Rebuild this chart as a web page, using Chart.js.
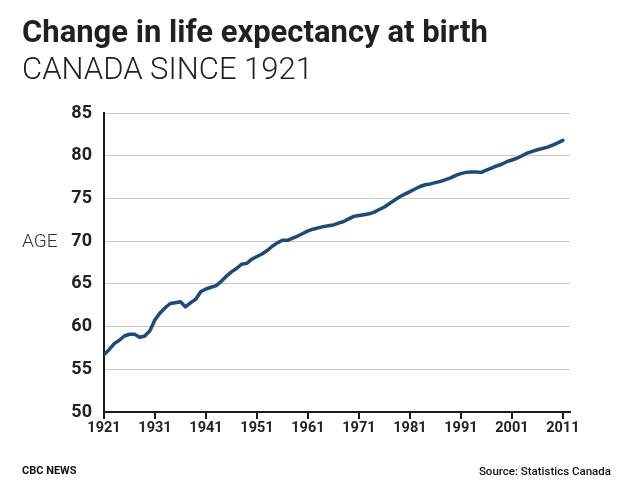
<!DOCTYPE html>
<html>
<head>
<meta charset="utf-8">
<script src="https://cdn.jsdelivr.net/npm/chart.js@4"></script>
<style>
  html, body { margin: 0; padding: 0; background: #fff; }
  body { width: 627px; height: 488px; position: relative; overflow: hidden; font-family: Roboto, sans-serif; }
  #chart { position: absolute; left: 0; top: 0; }
  .txt { position: absolute; white-space: nowrap; color: #222; }
  #title { left: 22px; top: 13px; font-size: 31px; font-weight: 700; color: #231f20; }
  #subtitle { left: 22px; top: 50px; font-size: 31px; font-weight: 300; color: #231f20; }
  #age { left: 22px; top: 229px; font-size: 19px; font-weight: 300; color: #333; }
  #cbc { left: 22px; top: 464px; font-size: 11px; font-weight: 700; color: #111; }
  #source { right: 16px; top: 464px; font-size: 11.5px; font-weight: 500; color: #111; }
</style>
</head>
<body>
<canvas id="chart" width="627" height="488"></canvas>
<div class="txt" id="title">Change in life expectancy at birth</div>
<div class="txt" id="subtitle">CANADA SINCE 1921</div>
<div class="txt" id="age">AGE</div>
<div class="txt" id="cbc">CBC NEWS</div>
<div class="txt" id="source">Source: Statistics Canada</div>
<script>
const firstYear = 1921;

// life expectancy at birth, one value per year 1921..2011
const lifeExpectancy = [
    56.7, 57.3, 58.0, 58.4, 58.9, 59.1, 59.1, 58.75, 58.9, 59.5,
    60.8, 61.6, 62.2, 62.7, 62.8, 62.9, 62.3, 62.8, 63.2, 64.1,
    64.4, 64.6, 64.8, 65.3, 65.9, 66.4, 66.8, 67.3, 67.4, 67.9,
    68.2, 68.5, 68.9, 69.4, 69.8, 70.1, 70.1, 70.35, 70.6, 70.9,
    71.2, 71.4, 71.55, 71.7, 71.8, 71.9, 72.1, 72.3, 72.6, 72.9,
    73.0, 73.1, 73.2, 73.4, 73.7, 74.0, 74.4, 74.8, 75.2, 75.5,
    75.8, 76.1, 76.4, 76.6, 76.7, 76.85, 77.0, 77.2, 77.4, 77.7,
    77.9, 78.05, 78.1, 78.1, 78.05, 78.3, 78.55, 78.8, 79.0, 79.3,
    79.5, 79.7, 80.0, 80.3, 80.5, 80.7, 80.85, 81.0, 81.25, 81.5,
    81.8
];

const yearTicks = [1921, 1931, 1941, 1951, 1961, 1971, 1981, 1991, 2001, 2011];
const ageTicks = [50, 55, 60, 65, 70, 75, 80, 85];

const points = lifeExpectancy.map((v, i) => ({ x: firstYear + i, y: v }));

new Chart(document.getElementById('chart'), {
    type: 'line',
    data: {
        datasets: [{
            data: points,
            borderColor: '#1b4a7b',
            borderWidth: 3.5,
            pointRadius: 0,
            tension: 0,
            borderJoinStyle: 'round',
            borderCapStyle: 'round'
        }]
    },
    options: {
        responsive: false,
        animation: false,
        events: [],
        layout: {
            padding: { left: 0, right: 57, top: 113, bottom: 46 }
        },
        plugins: {
            legend: { display: false },
            tooltip: { enabled: false }
        },
        scales: {
            x: {
                type: 'linear',
                min: 1921,
                max: 2012.4,
                afterBuildTicks: (scale) => {
                    scale.ticks = yearTicks.map(v => ({ value: v }));
                },
                afterFit: (scale) => { scale.height = 30; },
                border: { color: '#1a1a1a', width: 2 },
                grid: {
                    drawOnChartArea: false,
                    drawTicks: true,
                    tickLength: 7,
                    color: '#1a1a1a',
                    lineWidth: 2
                },
                ticks: {
                    autoSkip: false,
                    maxRotation: 0,
                    padding: 1,
                    color: '#222',
                    font: { family: 'Roboto', size: 14.5, weight: '700' },
                    callback: (value) => String(value)
                }
            },
            y: {
                min: 50,
                max: 85,
                afterBuildTicks: (scale) => {
                    scale.ticks = ageTicks.map(v => ({ value: v }));
                },
                afterFit: (scale) => { scale.width = 104; },
                border: { color: '#1a1a1a', width: 2 },
                grid: {
                    drawTicks: false,
                    color: '#c9c9c9',
                    lineWidth: 1
                },
                ticks: {
                    padding: 12,
                    color: '#222',
                    font: { family: 'Roboto', size: 18, weight: '700' }
                }
            }
        }
    }
});
</script>
</body>
</html>
